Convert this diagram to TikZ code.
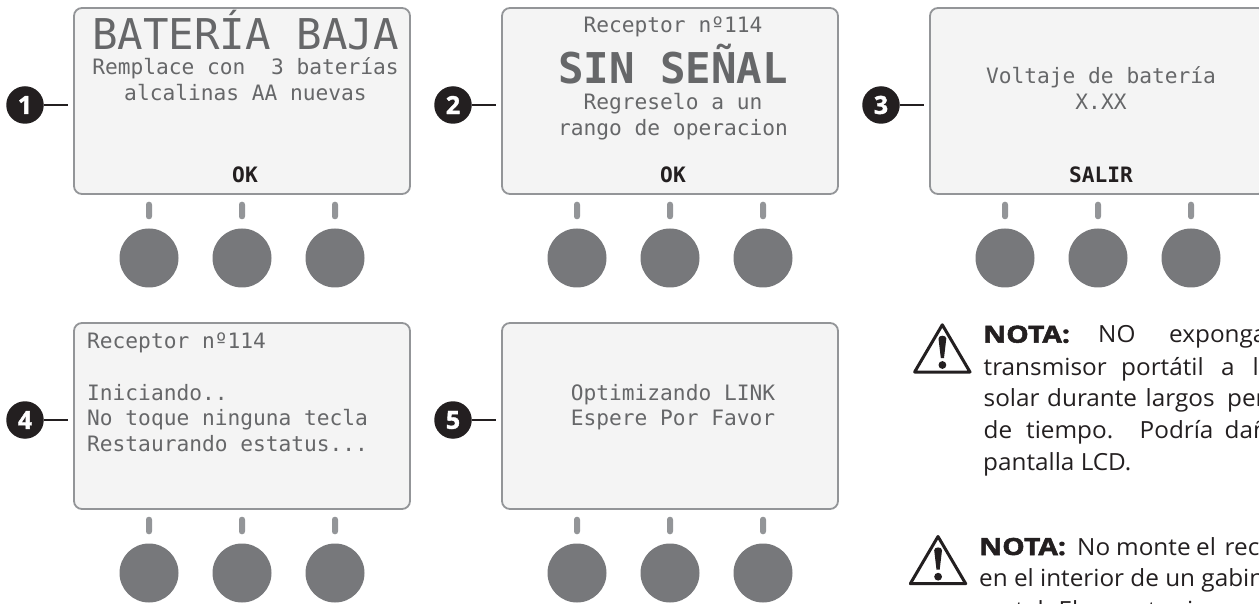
\documentclass[tikz,border=0pt]{standalone}
\usepackage{fontspec}
\setmainfont{Open Sans}
\newfontfamily\lcdfont{DejaVu Sans Mono}
\newfontfamily\notefont[FakeStretch=1.03]{Open Sans}
\newfontfamily\noteboldfont[FakeStretch=1.2,FakeBold=2.2]{Open Sans Bold}
\newfontfamily\badgefont[FakeBold=1.5]{Open Sans Bold}
\definecolor{edgegray}{HTML}{939598}
\definecolor{screenfill}{HTML}{F4F4F4}
\definecolor{buttongray}{HTML}{77787B}
\definecolor{lcdtext}{HTML}{666769}
\definecolor{inkblack}{HTML}{231F20}
\newcommand{\lcdsmall}{\lcdfont\fontsize{21.2}{21.2}\selectfont}
\newcommand{\lcdbig}{\lcdfont\fontsize{42.4}{42.4}\selectfont}
\newcommand{\screenunit}[4]{%
  % #1 id, #2 left, #3 top, #4 badge digit
  \node[screen,anchor=north west] (s#1) at (#2,#3) {};
  \foreach \k/\dx in {a/75,b/168,c/261}{
    \node[ledmark] (l#1\k) at ({#2+\dx},{#3+202.5}) {};
    \node[pushbutton] (p#1\k) at ({#2+\dx},{#3+250}) {};
  }
  \node[badge] (b#1) at ({#2-49},{#3+97}) {#4};
  \draw[leader] (b#1.east) -- (b#1 -| s#1.west);
}
\tikzset{
  screen/.style={draw=edgegray,fill=screenfill,line width=1.8pt,rounded corners=8pt,minimum width=336pt,minimum height=186pt,inner sep=0pt,outer sep=0pt},
  ledmark/.style={draw=none,fill=edgegray,rounded corners=2.8pt,minimum width=6pt,minimum height=17.5pt,inner sep=0pt},
  pushbutton/.style={circle,draw=none,fill=buttongray,minimum size=59pt,inner sep=0pt},
  badge/.style={circle,draw=none,fill=inkblack,minimum size=37.5pt,inner sep=0pt,text=white,font=\badgefont\fontsize{25}{25}\selectfont},
  leader/.style={draw=inkblack,line width=1.4pt,shorten >=6pt},
  lcd/.style={anchor=base,inner sep=0pt,text=lcdtext,font=\lcdsmall},
  lcdl/.style={anchor=base west,inner sep=0pt,text=lcdtext,font=\lcdsmall},
  lcdh/.style={anchor=base,inner sep=0pt,text=lcdtext,font=\lcdbig},
  softkey/.style={anchor=base,inner sep=0pt,text=inkblack,font=\lcdsmall\bfseries},
  note/.style={anchor=base west,inner sep=0pt,text=inkblack,font=\notefont\fontsize{23.6}{23.6}\selectfont},
  noteb/.style={anchor=base west,inner sep=0pt,text=inkblack,font=\noteboldfont\fontsize{23.6}{23.6}\selectfont},
  warnedge/.style={draw=inkblack,line width=3pt,line join=round},
  warnbar/.style={fill=inkblack,draw=none},
}
\begin{document}
\begin{tikzpicture}[x=1pt,y=-1pt]
\useasboundingbox (0,0) rectangle (1259,604);
\clip (0,0) rectangle (1259,604);
\fill[white] (0,0) rectangle (1259,604);
\screenunit{1}{74}{8}{1}
\screenunit{2}{502}{8}{2}
\screenunit{3}{930}{8}{3}
\screenunit{4}{74}{323}{4}
\screenunit{5}{502}{323}{5}
% screen 1
\node[lcdh] (t1a) at (245.5,49.3) {BATERÍA BAJA};
\node[lcd] (t1b) at (245.5,75) {Remplace con\ \ 3 baterías};
\node[lcd] (t1c) at (245.5,100.5) {alcalinas AA nuevas};
\node[softkey] (t1d) at (245,183) {OK};
% screen 2
\node[lcd] (t2a) at (673,32.7) {Receptor nº114};
\node[lcdh,font=\lcdbig\bfseries] (t2b) at (673,84) {SIN SEÑAL};
\node[lcd] (t2c) at (673,110) {Regreselo a un};
\node[lcd] (t2d) at (673,135.5) {rango de operacion};
\node[softkey] (t2e) at (673,183) {OK};
% screen 3
\node[lcd] (t3a) at (1101,84) {Voltaje de batería};
\node[lcd] (t3b) at (1101,110) {X.XX};
\node[softkey] (t3c) at (1101,183) {SALIR};
% screen 4
\node[lcdl] (t4a) at (87,348) {Receptor nº114};
\node[lcdl] (t4b) at (87,400) {Iniciando..};
\node[lcdl] (t4c) at (87,425.7) {No toque ninguna tecla};
\node[lcdl] (t4d) at (87,451.3) {Restaurando estatus...};
% screen 5
\node[lcd] (t5a) at (673,400) {Optimizando LINK};
\node[lcd] (t5b) at (673,425.7) {Espere Por Favor};
% warning 1
\draw[warnedge] (942.3,324.8) -- (970,372) -- (914.6,372) -- cycle;
\fill[warnbar] (938.5,338.5) .. controls (938.5,334.8) and (946.3,334.8) .. (946.3,338.5) -- (944,358) -- (940.8,358) -- cycle;
\fill[warnbar] (942.4,365) circle (3.9pt);
% warning 2
\draw[warnedge] (938,536.5) -- (965.7,583.7) -- (910.3,583.7) -- cycle;
\fill[warnbar] (934.2,550.2) .. controls (934.2,546.5) and (942,546.5) .. (942,550.2) -- (939.7,569.7) -- (936.5,569.7) -- cycle;
\fill[warnbar] (938.1,576.7) circle (3.9pt);
% note 1
\node[noteb] (n1a) at (983,342.7) {NOTA:};
\node[note] (n1b) at (1098,342.7) {NO};
\node[note] (n1c) at (1169,342.7) {exponga};
\node[note] (n1d) at (983.5,375) {transmisor};
\node[note] (n1e) at (1121,375) {portátil};
\node[note] (n1f) at (1221,375) {a};
\node[note] (n1g) at (1252.5,375) {la};
\node[note] (n1h) at (983.5,406.7) {solar};
\node[note] (n1i) at (1047,406.7) {durante};
\node[note] (n1j) at (1145.5,406.7) {largos};
\node[note] (n1k) at (1227,406.7) {periodos};
\node[note] (n1l) at (983.5,438.3) {de};
\node[note] (n1m) at (1026,438.3) {tiempo.};
\node[note] (n1n) at (1139.5,438.3) {Podría};
\node[note] (n1o) at (1224.5,438.3) {dañar};
\node[note] (n1p) at (983,470.7) {pantalla LCD.};
% note 2
\node[noteb] (n2a) at (979,555) {NOTA:};
\node[note] (n2b) at (1077,555) {No};
\node[note] (n2c) at (1116,555) {monte};
\node[note] (n2d) at (1196,555) {el};
\node[note] (n2e) at (1224.5,555) {receptor};
\node[note] (n2f) at (979,586.7) {en el interior de un gabinete};
\node[note] (n2g) at (979,618.5) {metal. El receptor i};
\end{tikzpicture}
\end{document}
